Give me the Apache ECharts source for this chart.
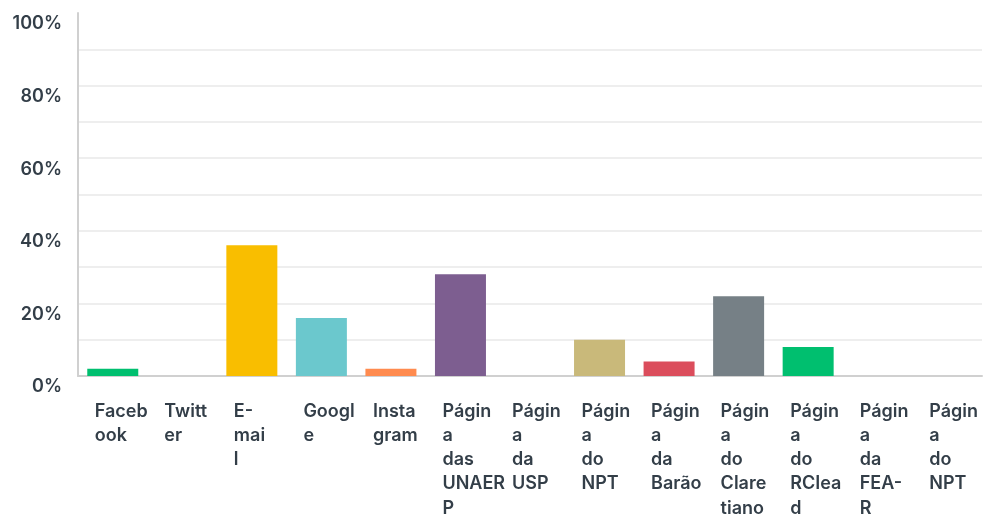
<!DOCTYPE html>
<html>
<head>
<meta charset="utf-8">
<script src="https://cdn.jsdelivr.net/npm/echarts@6/dist/echarts.min.js"></script>
<style>
  html, body { margin: 0; padding: 0; background: #fff; }
  #chart { width: 984px; height: 517px; }
</style>
</head>
<body>
<div id="chart"></div>
<script>
// categories and how the labels wrap in the picture
const categories = [
  'Facebook', 'Twitter', 'E-mail', 'Google', 'Instagram',
  'Página das UNAERP', 'Página da USP', 'Página do NPT', 'Página da Barão',
  'Página do Claretiano', 'Página do RCIead', 'Página da FEA-R', 'Página do NPT'
];
const tickLabels = [
  'Faceb\nook', 'Twitt\ner', 'E-\nmai\nl', 'Googl\ne', 'Insta\ngram',
  'Págin\na\ndas\nUNAER\nP', 'Págin\na\nda\nUSP', 'Págin\na\ndo\nNPT', 'Págin\na\nda\nBarão',
  'Págin\na\ndo\nClare\ntiano', 'Págin\na\ndo\nRCIea\nd', 'Págin\na\nda\nFEA-\nR', 'Págin\na\ndo\nNPT'
];
const values = [2, 0, 36, 16, 2, 28, 0, 10, 4, 22, 8, 0, 0];
const barColors = [
  '#00bf6f', '#507cb6', '#f9be00', '#6bc8cd', '#ff8b4f',
  '#7d5e90', '#d25f90', '#c9b97a', '#db4d5c', '#768086',
  '#00bf6f', '#507cb6', '#f9be00'
];
const yTicks = [0, 20, 40, 60, 80, 100];

const textColor = '#333e48';
const fontFamily = 'Inter, "Open Sans", sans-serif';

const chart = echarts.init(document.getElementById('chart'));

// one split line per 10%, the top one (100%) is not drawn
const gridColors = new Array(11).fill('#eeeeee');
gridColors[10] = 'rgba(0,0,0,0)';

chart.setOption({
  animation: false,
  grid: { left: 78, top: 13, bottom: 141, width: 904, containLabel: false, outerBoundsMode: 'none' },
  xAxis: {
    type: 'category',
    data: categories,
    axisLine: { show: true, lineStyle: { color: '#d0d0d0', width: 2 } },
    axisTick: { show: false },
    axisLabel: {
      interval: 0,
      margin: 23,
      align: 'left',
      padding: [0, 0, 0, -18],
      color: textColor,
      fontFamily: fontFamily,
      fontWeight: 600,
      fontSize: 18,
      lineHeight: 24.3,
      formatter: (val, idx) => tickLabels[idx]
    }
  },
  yAxis: {
    type: 'value',
    min: 0,
    max: 100,
    interval: 10,
    axisLine: { show: true, lineStyle: { color: '#d0d0d0', width: 2 } },
    axisTick: { show: false },
    splitLine: { show: true, lineStyle: { color: gridColors, width: 2 } },
    axisLabel: {
      margin: 16,
      color: textColor,
      fontFamily: fontFamily,
      fontWeight: 600,
      fontSize: 18,
      verticalAlign: 'top',
      padding: [2, 0, 0, 0],
      formatter: v => (yTicks.includes(v) ? v + '%' : '')
    }
  },
  series: [{
    type: 'bar',
    barWidth: 51,
    data: values.map((v, i) => ({ value: v, itemStyle: { color: barColors[i] } }))
  }]
});
</script>
</body>
</html>
